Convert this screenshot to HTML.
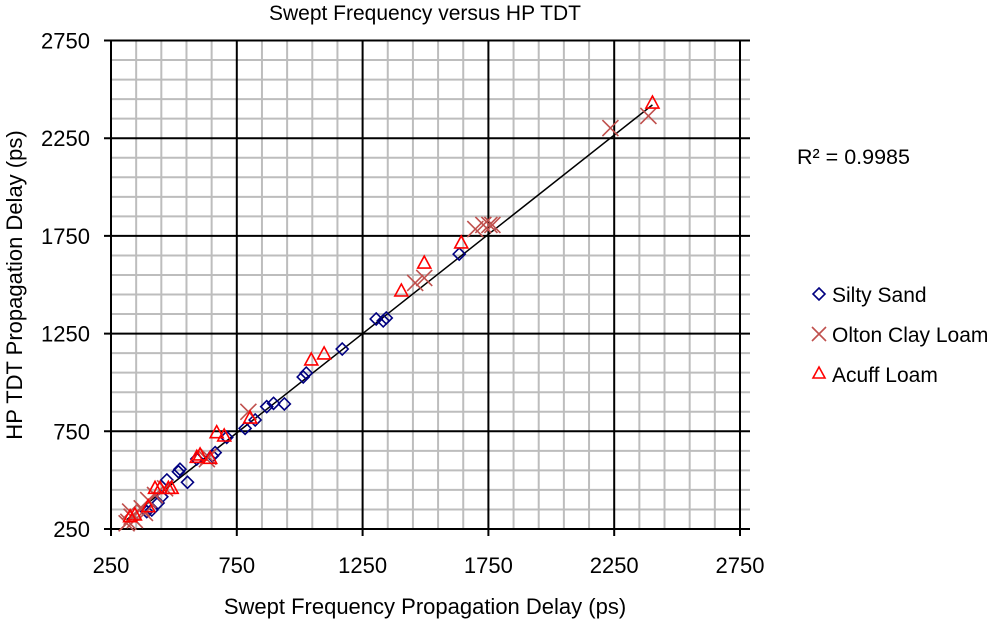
<!DOCTYPE html>
<html><head><meta charset="utf-8"><style>
body{margin:0;background:#fff;}
svg text{font-family:"Liberation Sans",Arial,sans-serif;fill:#000;}
</style></head><body>
<svg id="chart" width="1000" height="623" xmlns="http://www.w3.org/2000/svg">
<text x="425" y="20" font-size="21" text-anchor="middle">Swept Frequency versus HP TDT</text>
<g id="grid"></g>
<g id="marks"></g>
<text x="425" y="614" font-size="22" text-anchor="middle">Swept Frequency Propagation Delay (ps)</text>
<text transform="translate(22,285) rotate(-90)" font-size="22" text-anchor="middle">HP TDT Propagation Delay (ps)</text>
<text x="797" y="164" font-size="21.5">R² = 0.9985</text>
<g>
<g><path d="M819,288 L825,294 L819,300 L813,294 Z" fill="none" stroke="#000080" stroke-width="1.6"/><text x="832" y="302" font-size="21">Silty Sand</text></g>
<g><path d="M812,327 L826,341 M826,327 L812,341" stroke="#C0504D" stroke-width="1.6"/><text x="832" y="342" font-size="21">Olton Clay Loam</text></g>
<g><path d="M819,367 L825,378 L813,378 Z" fill="none" stroke="#ff0000" stroke-width="1.6"/><text x="832" y="382" font-size="21">Acuff Loam</text></g>
</g>
</svg>
<script>
const ticks=[250,750,1250,1750,2250,2750];
const siltyX=[869,896,939,823,783,710,664,653,591,524,518,554,472,452,412,437,392,1634,1304,1332,1344,1169,1026,1014];
const siltyY=[876,893,890,808,765,719,641,624,608,556,543,489,501,415,347,383,339,1657,1325,1315,1330,1171,1048,1028];
const oltonX=[2235,2386,1698,1730,1754,1766,1459,1495,796,631,332,345,326,372,398,425,319,312,385,465,637];
const oltonY=[2302,2364,1785,1806,1806,1806,1509,1535,850,607,313,296,339,356,398,424,287,279,332,458,620];
const acuffX=[2402,1642,1495,1404,1097,1046,670,700,591,491,445,803,478,425,398,345,326,604,644];
const acuffY=[2430,1714,1611,1468,1146,1115,743,726,617,458,458,818,458,458,364,322,313,629,612];
const trendSlope=1.016, trendIntercept=-20;
const X0=111,X1=740,Y0=529,Y1=40.5,V0=250,V1=2750;
function sx(v){return X0+(v-V0)/(V1-V0)*(X1-X0);}
function sy(v){return Y0-(v-V0)/(V1-V0)*(Y0-Y1);}
const NS="http://www.w3.org/2000/svg";
function mk(tag,attrs,parent){const e=document.createElementNS(NS,tag);for(const k in attrs)e.setAttribute(k,attrs[k]);parent.appendChild(e);return e;}
const grid=document.getElementById('grid'), marks=document.getElementById('marks');
for(let v=V0;v<=V1;v+=100){
  if((v-V0)%500===0)continue;
  let l=mk('line',{x1:sx(v),x2:sx(v),y1:Y1,y2:Y0,stroke:'#bdbdbd','stroke-width':2},grid);
  
  
  l=mk('line',{x1:X0,x2:X1+10,y1:sy(v),y2:sy(v),stroke:'#bdbdbd','stroke-width':2},grid);
  
  
}
ticks.forEach(t=>{
  let l=mk('line',{x1:sx(t),x2:sx(t),y1:Y1,y2:Y0+7,stroke:'#000','stroke-width':2},grid);
  
  
  l=mk('line',{x1:X0-7,x2:X1+10,y1:sy(t),y2:sy(t),stroke:'#000','stroke-width':2},grid);
  
  
  let tx=mk('text',{x:sx(t),y:573,'font-size':22,'text-anchor':'middle'},grid);tx.textContent=t;
  
  
  tx=mk('text',{x:90,y:sy(t)+8,'font-size':22,'text-anchor':'end'},grid);tx.textContent=t;
  
  
});
const allX=siltyX.concat(oltonX,acuffX);
const xmin=Math.min(...allX), xmax=Math.max(...allX);
let tl=mk('line',{x1:sx(xmin),y1:sy(trendSlope*xmin+trendIntercept),x2:sx(xmax),y2:sy(trendSlope*xmax+trendIntercept),stroke:'#000','stroke-width':1.5},marks);


siltyX.forEach((v,i)=>{const x=sx(v),y=sy(siltyY[i]);
  const p=mk('path',{d:`M${x},${y-6} L${x+6},${y} L${x},${y+6} L${x-6},${y} Z`,fill:'none',stroke:'#000080','stroke-width':1.6},marks);
  
  });
oltonX.forEach((v,i)=>{const x=sx(v),y=sy(oltonY[i]);
  const p=mk('path',{d:`M${x-8},${y-8} L${x+8},${y+8} M${x+8},${y-8} L${x-8},${y+8}`,stroke:'#C0504D','stroke-width':1.6},marks);
  
  });
acuffX.forEach((v,i)=>{const x=sx(v),y=sy(acuffY[i]);
  const p=mk('path',{d:`M${x},${y-7} L${x+6.5},${y+5} L${x-6.5},${y+5} Z`,fill:'none',stroke:'#ff0000','stroke-width':1.6},marks);
  
  });
</script>
</body></html>
